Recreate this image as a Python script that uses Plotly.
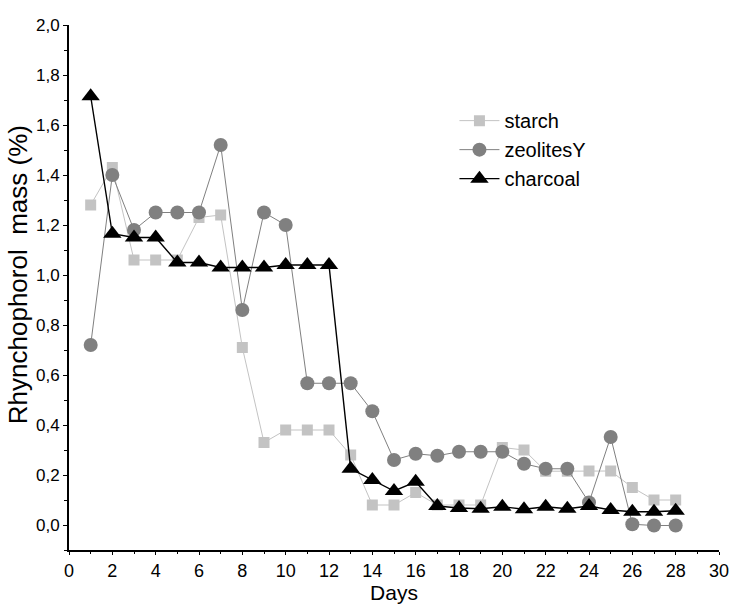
import plotly.graph_objects as go

# Sampling days and measured rhynchophorol mass (%) for each carrier
days = list(range(1, 29))

starch = [1.28, 1.43, 1.06, 1.06, 1.06, 1.23, 1.24, 0.71, 0.33, 0.38,
          0.38, 0.38, 0.28, 0.08, 0.08, 0.13, 0.08, 0.08, 0.08, 0.31,
          0.30, 0.215, 0.215, 0.216, 0.216, 0.15, 0.10, 0.10]

zeolitesY = [0.72, 1.40, 1.18, 1.25, 1.25, 1.25, 1.52, 0.86, 1.25, 1.20,
             0.567, 0.567, 0.567, 0.455, 0.26, 0.285, 0.277, 0.293, 0.293, 0.293,
             0.245, 0.225, 0.225, 0.09, 0.352, 0.003, -0.002, -0.002]

charcoal = [1.715, 1.165, 1.15, 1.15, 1.05, 1.05, 1.03, 1.03, 1.03, 1.04,
            1.04, 1.04, 0.225, 0.18, 0.136, 0.173, 0.076, 0.068, 0.065, 0.073,
            0.063, 0.073, 0.065, 0.076, 0.06, 0.053, 0.053, 0.057]

x_ticks = list(range(0, 31, 2))
y_ticks = [i / 10 for i in range(0, 21, 2)]
y_tick_text = [f"{v:.1f}".replace(".", ",") for v in y_ticks]

font_main = "Liberation Sans, Arial, sans-serif"
font_narrow = "Liberation Sans Narrow, Arial Narrow, Liberation Sans, Arial, sans-serif"

fig = go.Figure()

fig.add_trace(go.Scatter(
    x=days, y=starch, name="starch", mode="lines+markers",
    line=dict(color="#c3c3c3", width=1),
    marker=dict(symbol="square", size=11, color="#c3c3c3"),
))
fig.add_trace(go.Scatter(
    x=days, y=zeolitesY, name="zeolitesY", mode="lines+markers",
    line=dict(color="#808080", width=1),
    marker=dict(symbol="circle", size=14, color="#808080"),
))
fig.add_trace(go.Scatter(
    x=days, y=charcoal, name="charcoal", mode="lines+markers",
    line=dict(color="#000000", width=1.4),
    marker=dict(symbol="triangle-up", size=16, color="#000000"),
))

fig.update_layout(
    width=736, height=604,
    margin=dict(l=69, r=17, t=25, b=54),
    paper_bgcolor="white", plot_bgcolor="white",
    font=dict(family=font_main, color="black", size=17),
    showlegend=True,
    legend=dict(
        x=0.593, y=0.855, xanchor="left", yanchor="top",
        font=dict(family=font_main, size=20, color="black"),
        bgcolor="rgba(0,0,0,0)", tracegroupgap=0,
        itemwidth=40,
    ),
    annotations=[dict(
        text="Rhynchophorol  mass (%)", textangle=-90,
        xref="paper", yref="paper", x=-0.078, y=0.524,
        xanchor="center", yanchor="middle", showarrow=False,
        font=dict(family=font_main, size=26, color="black"),
    )],
)

fig.update_xaxes(
    range=[0, 30], tickvals=x_ticks, ticktext=[str(t) for t in x_ticks],
    showline=True, linecolor="black", linewidth=2, mirror=False,
    showgrid=False, zeroline=False, automargin=False,
    ticks="outside", ticklen=3, tickwidth=1, tickcolor="black",
    minor=dict(dtick=1, ticks="outside", ticklen=2, tickcolor="black", showgrid=False),
    tickfont=dict(family=font_narrow, size=18, color="black"),
    title=dict(text="Days", font=dict(family=font_main, size=21, color="black"), standoff=6),
)

fig.update_yaxes(
    range=[-0.1, 2.0], tickvals=y_ticks, ticktext=y_tick_text,
    showline=True, linecolor="black", linewidth=2, mirror=False,
    showgrid=False, zeroline=False, automargin=False,
    ticks="outside", ticklen=4, tickwidth=1, tickcolor="black",
    minor=dict(dtick=0.1, ticks="outside", ticklen=3, tickcolor="black", showgrid=False),
    tickfont=dict(family=font_main, size=17, color="black"),
)

fig.write_html("out.html")
